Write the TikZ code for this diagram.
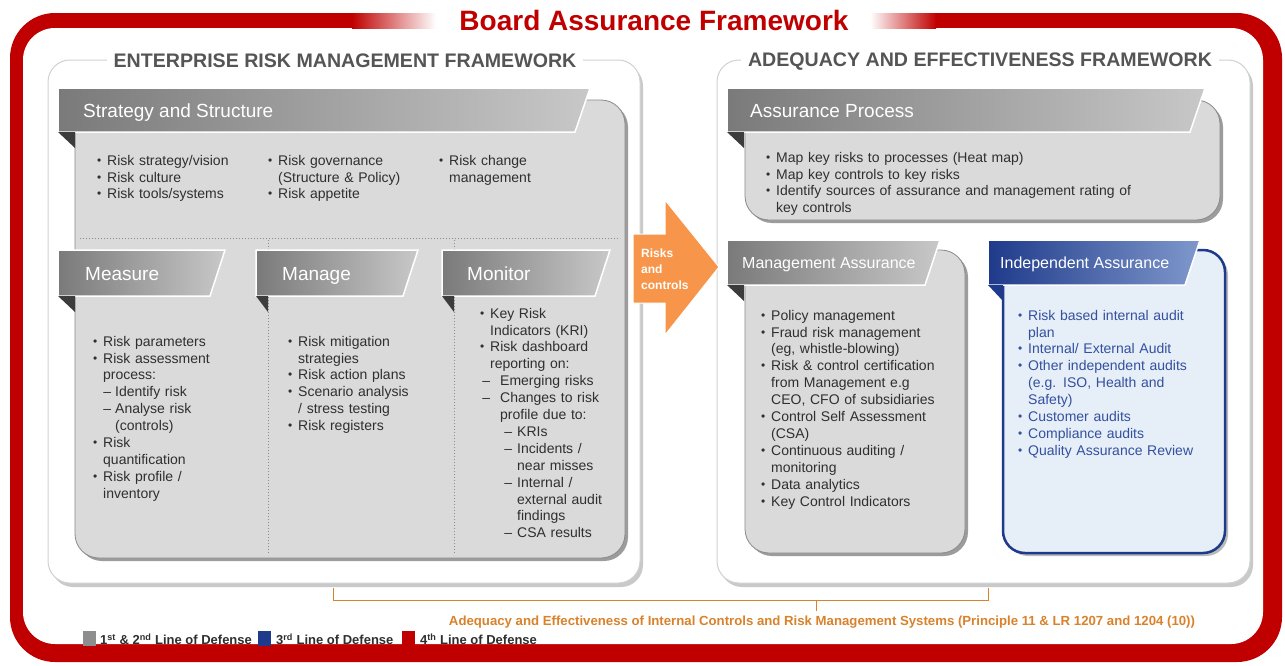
\documentclass[tikz,border=0pt]{standalone}
\usepackage{fontspec}
\setmainfont{Liberation Sans}
\usepackage{graphicx}
\usepackage{enumitem}
\usetikzlibrary{shadows}
\definecolor{bafred}{HTML}{C00000}
\definecolor{bandark}{HTML}{7A7A7A}
\definecolor{banlight}{HTML}{C8C8C8}
\definecolor{boxgray}{HTML}{DADADA}
\definecolor{boxedge}{HTML}{8A8A8A}
\definecolor{txtgray}{HTML}{2F2F2F}
\definecolor{hdrgray}{HTML}{555555}
\definecolor{navy}{HTML}{1F3A8A}
\definecolor{navylight}{HTML}{7F98CC}
\definecolor{bluebox}{HTML}{E6EEF8}
\definecolor{bluetxt}{HTML}{34509E}
\definecolor{arroworange}{HTML}{F7964A}
\definecolor{bracecol}{HTML}{D9822B}
\definecolor{legendgray}{HTML}{8E8E8E}
\definecolor{foldgray}{HTML}{3C3C3C}
\newcommand\mybul{\raisebox{1pt}{\scalebox{0.85}{\textbullet}}}
\newlist{blist}{itemize}{3}
\setlist[blist]{leftmargin=12pt,labelsep=6pt,itemsep=0pt,topsep=0pt,parsep=0pt,partopsep=0pt,label=\mybul}
\setlist[blist,2]{label=--,leftmargin=12pt,labelsep=4pt,labelwidth=8pt}
\setlist[blist,3]{label=--,leftmargin=17pt,labelsep=5pt,labelwidth=8pt}
% x1, x2, ytop, ybot, style, fold colour, fold width
\newcommand\mkbanner[7]{%
  \path[#5, draw=white, line width=1.5pt] (#1,#3) -- (#2,#3) -- ({#2-15},#4) -- (#1,#4) -- cycle;
  \fill[#6] (#1,#4) -- ({#1+#7},#4) -- ({#1+#7},{#4+16}) -- cycle;
}
\begin{document}
\begin{tikzpicture}[x=1pt,y=-1pt,
  panel/.style={fill=white, draw=black!18, line width=1pt, rounded corners=22pt,
    drop shadow={shadow xshift=3pt, shadow yshift=-4pt, opacity=0.35, fill=black!60}},
  graybox/.style={fill=boxgray, draw=boxedge, line width=0.8pt, rounded corners=24pt,
    drop shadow={shadow xshift=3pt, shadow yshift=-3pt, opacity=0.55, fill=black!70}},
  bluebx/.style={fill=bluebox, draw=navy, line width=2.5pt, rounded corners=22pt,
    drop shadow={shadow xshift=3pt, shadow yshift=-3pt, opacity=0.45, fill=black!60}},
  grayban/.style={left color=bandark, right color=banlight},
  blueban/.style={left color=navy, right color=navylight},
  hdr/.style={fill=white, inner xsep=7pt, inner ysep=2pt, text=hdrgray,
    font=\bfseries\fontsize{19.6}{21}\selectfont},
  bantext/.style={anchor=base west, inner sep=0pt, text=white, font=\fontsize{19}{21}\selectfont},
  bantextsm/.style={bantext, font=\fontsize{16}{18}\selectfont},
  listnode/.style={anchor=north west, inner sep=0pt, align=left, text=txtgray,
    font=\fontsize{14}{16.9}\selectfont},
  dotline/.style={draw=black!45, line width=1pt, dotted},
  legtext/.style={anchor=west, inner sep=0pt, text=txtgray, font=\bfseries\fontsize{13}{15}\selectfont}
]
\useasboundingbox (0,0) rectangle (1285,665);
\fill[white] (0,0) rectangle (1285,665);

% ---- outer red frame ----
\fill[bafred, rounded corners=45pt] (10,13) rectangle (1282,662);
\fill[white, rounded corners=32pt] (23,28) rectangle (1263,644);
\fill[white] (436,8) rectangle (870,30);
\shade[left color=bafred, right color=white] (352,13) rectangle (436,28);
\shade[left color=white, right color=bafred] (870,13) rectangle (936,28);
\node[font=\bfseries\fontsize{28}{30}\selectfont, text=bafred] (title) at (654,20) {Board Assurance Framework};

% ---- panels ----
\path[panel] (48,60) rectangle (640,583);
\path[panel] (717,60) rectangle (1250,583);
\node[hdr] (ermhdr) at (345,61) {ENTERPRISE RISK MANAGEMENT FRAMEWORK};
\node[hdr] (aefhdr) at (980,62) {ADEQUACY AND EFFECTIVENESS FRAMEWORK};

% ---- left gray box ----
\path[graybox] (75,100) rectangle (625,558);
\draw[dotline] (80,238) -- (620,238);
\draw[dotline] (268,240) -- (268,555);
\draw[dotline] (454,240) -- (454,555);

\mkbanner{58}{590}{88}{132}{grayban}{foldgray}{17}
\node[bantext] (strat) at (83,117) {Strategy and Structure};
\mkbanner{58}{225}{250}{296}{grayban}{foldgray}{17}
\node[bantext] (meas) at (85,280) {Measure};
\mkbanner{256}{418}{250}{296}{grayban}{foldgray}{12}
\node[bantext] (mana) at (282,280) {Manage};
\mkbanner{442}{610}{250}{296}{grayban}{foldgray}{12}
\node[bantext] (moni) at (467,280) {Monitor};

\node[listnode, text width=165pt] (ss1) at (95,148) {\begin{blist}
\item Risk strategy/vision
\item Risk culture
\item Risk tools/systems
\end{blist}};
\node[listnode, text width=165pt] (ss2) at (266,148) {\begin{blist}
\item Risk governance\\(Structure \& Policy)
\item Risk appetite
\end{blist}};
\node[listnode, text width=165pt] (ss3) at (437,148) {\begin{blist}
\item Risk change\\management
\end{blist}};

\node[listnode, text width=160pt] (measlist) at (91,329) {\begin{blist}
\item Risk parameters
\item Risk assessment\\process:
  \begin{blist}
  \item Identify risk
  \item Analyse risk\\(controls)
  \end{blist}
\item Risk\\quantification
\item Risk profile /\\inventory
\end{blist}};

\node[listnode, text width=160pt] (manalist) at (286,329) {\begin{blist}
\item Risk mitigation\\strategies
\item Risk action plans
\item Scenario analysis\\/ stress testing
\item Risk registers
\end{blist}};

\node[listnode, text width=150pt] (monilist) at (478,301) {\begin{blist}
\item Key Risk\\Indicators (KRI)
\item Risk dashboard\\reporting on:
  \begin{blist}[leftmargin=10pt,labelsep=10pt]
  \item Emerging risks
  \item Changes to risk\\profile due to:
    \begin{blist}
    \item KRIs
    \item Incidents /\\near misses
    \item Internal /\\external audit\\findings
    \item CSA results
    \end{blist}
  \end{blist}
\end{blist}};

% ---- right side boxes ----
\path[graybox] (745,100) rectangle (1220,220);
\mkbanner{727}{1205}{88}{132}{grayban}{foldgray}{17}
\node[bantext] (assur) at (750,117) {Assurance Process};
\node[listnode, text width=460pt] (assurlist) at (764,145) {\begin{blist}
\item Map key risks to processes (Heat map)
\item Map key controls to key risks
\item Identify sources of assurance and management rating of\\key controls
\end{blist}};

\path[graybox] (745,250) rectangle (965,553);
\mkbanner{727}{940}{240}{285}{grayban}{foldgray}{17}
\node[bantextsm] (mgmt) at (742,268) {Management Assurance};
\node[listnode, text width=200pt] (mgmtlist) at (759,303) {\begin{blist}
\item Policy management
\item Fraud risk management\\(eg, whistle-blowing)
\item Risk \& control certification\\from Management e.g\\CEO, CFO of subsidiaries
\item Control Self Assessment\\(CSA)
\item Continuous auditing /\\monitoring
\item Data analytics
\item Key Control Indicators
\end{blist}};

\path[bluebx] (1003,250) rectangle (1225,553);
\mkbanner{988}{1200}{240}{285}{blueban}{navy}{15}
\node[bantextsm] (indep) at (1000,268) {Independent Assurance};
\node[listnode, text width=200pt, text=bluetxt] (indeplist) at (1016,303) {\begin{blist}
\item Risk based internal audit\\plan
\item Internal/ External Audit
\item Other independent audits\\(e.g. ISO,  Health and\\Safety)
\item Customer audits
\item Compliance audits
\item Quality Assurance Review
\end{blist}};

% ---- arrow ----
\path[fill=arroworange, draw=white, line width=1pt]
  (633,234) -- (665,234) -- (665,200) -- (719,267) -- (665,335) -- (665,303) -- (633,303) -- cycle;
\node[anchor=west, inner sep=0pt, align=left, text=white, font=\bfseries\fontsize{12}{16}\selectfont]
  (arrtxt) at (641,269) {Risks\\and\\controls};

% ---- bottom brace ----
\coordinate (bl) at (333,588);
\coordinate (br) at (988,588);
\coordinate (bm) at (816,600);
\coordinate (bt) at (816,611);
\draw[bracecol, line width=1pt] (bl) -- (333,600) -- (988,600) -- (br);
\draw[bracecol, line width=1pt] (bm) -- (bt);
\node[text=bracecol, inner sep=0pt, font=\bfseries\fontsize{13.2}{15}\selectfont] (adeq) at (822,622)
  {Adequacy and Effectiveness of Internal Controls and Risk Management Systems (Principle 11 \& LR 1207 and 1204 (10))};

% ---- legend ----
\fill[legendgray] (83,631) rectangle (96,646);
\node[legtext] (leg1) at (100,639) {1\textsuperscript{st} \& 2\textsuperscript{nd} Line of Defense};
\fill[navy] (258,631) rectangle (271,646);
\node[legtext] (leg2) at (276,639) {3\textsuperscript{rd} Line of Defense};
\fill[bafred] (402,631) rectangle (415,646);
\node[legtext] (leg3) at (420,639) {4\textsuperscript{th} Line of Defense};
\end{tikzpicture}
\end{document}
